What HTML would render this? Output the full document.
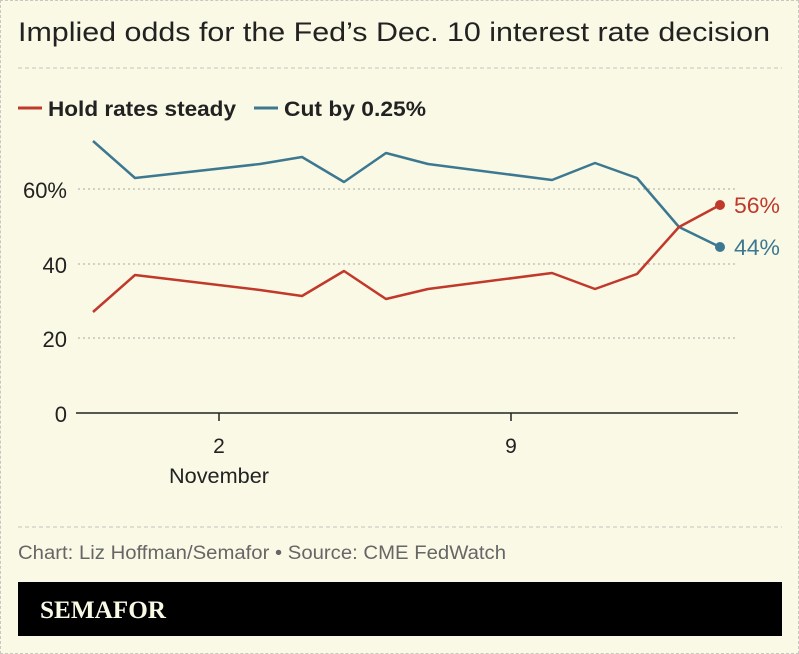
<!DOCTYPE html>
<html><head><meta charset="utf-8"><style>
html,body{margin:0;padding:0}
body{width:799px;height:654px;background:#faf9e6;position:relative;overflow:hidden;font-family:"Liberation Sans",sans-serif}
.frame{position:absolute;left:0;top:0;width:797px;height:652px;border:1px dashed #c8c8c0}
</style></head><body>
<div class="frame"></div>
<svg width="799" height="654" style="position:absolute;left:0;top:0" font-family="Liberation Sans, sans-serif">
<text x="18" y="41" font-size="27" fill="#222" textLength="752" lengthAdjust="spacingAndGlyphs">Implied odds for the Fed’s Dec. 10 interest rate decision</text>
<line x1="18" y1="68" x2="782" y2="68" stroke="#c4c4bc" stroke-dasharray="4,3"/>
<line x1="18" y1="108" x2="42" y2="108" stroke="#c0392b" stroke-width="3"/>
<text x="48" y="116" font-size="21" fill="#222" font-weight="bold" textLength="188" lengthAdjust="spacingAndGlyphs">Hold rates steady</text>
<line x1="254" y1="108" x2="278" y2="108" stroke="#3d7891" stroke-width="3"/>
<text x="284" y="116" font-size="21" fill="#222" font-weight="bold" textLength="142" lengthAdjust="spacingAndGlyphs">Cut by 0.25%</text>
<g stroke="#b8b8b0" stroke-dasharray="2,3" stroke-width="1.2">
<line x1="78" y1="189" x2="738" y2="189"/><line x1="78" y1="264" x2="738" y2="264"/><line x1="78" y1="338" x2="738" y2="338"/></g>
<line x1="76" y1="413" x2="738" y2="413" stroke="#222" stroke-width="1.5"/>
<line x1="219" y1="413" x2="219" y2="421" stroke="#222" stroke-width="1.5"/>
<line x1="511" y1="413" x2="511" y2="421" stroke="#222" stroke-width="1.5"/>
<g font-size="22" fill="#222" text-anchor="end"><text x="67" y="198">60%</text><text x="67" y="273">40</text><text x="67" y="347">20</text><text x="67" y="422">0</text></g>
<g font-size="21" fill="#222" text-anchor="middle"><text x="219" y="453">2</text><text x="219" y="483" textLength="100" lengthAdjust="spacingAndGlyphs">November</text><text x="511" y="453">9</text></g>
<polyline fill="none" stroke="#3d7891" stroke-width="2.5" stroke-linejoin="round" points="93,141 135,178 260,164 302,157 344,182 386,153 428,164 552,180 595,163 637,178 679,227 720,247"/>
<polyline fill="none" stroke="#c0392b" stroke-width="2.5" stroke-linejoin="round" points="93,312 135,275 260,290 302,296 344,271 386,299 428,289 552,273 595,289 637,274 679,227 720,205"/>
<circle cx="720" cy="247" r="5" fill="#3d7891"/><circle cx="720" cy="205" r="5" fill="#c0392b"/>
<text x="734" y="213" font-size="22" fill="#c0392b" textLength="46" lengthAdjust="spacingAndGlyphs">56%</text>
<text x="734" y="255" font-size="22" fill="#3d7891" textLength="46" lengthAdjust="spacingAndGlyphs">44%</text>
<line x1="18" y1="527" x2="782" y2="527" stroke="#c4c4bc" stroke-dasharray="4,3"/>
<text x="18" y="559" font-size="19" fill="#666" textLength="488" lengthAdjust="spacingAndGlyphs">Chart: Liz Hoffman/Semafor • Source: CME FedWatch</text>
<rect x="18" y="582" width="764" height="54" fill="#000"/>
<text x="40" y="618" font-family="Liberation Serif, serif" font-weight="bold" font-size="25" fill="#faf9e6" textLength="126" lengthAdjust="spacingAndGlyphs">SEMAFOR</text>
</svg>
</body></html>
